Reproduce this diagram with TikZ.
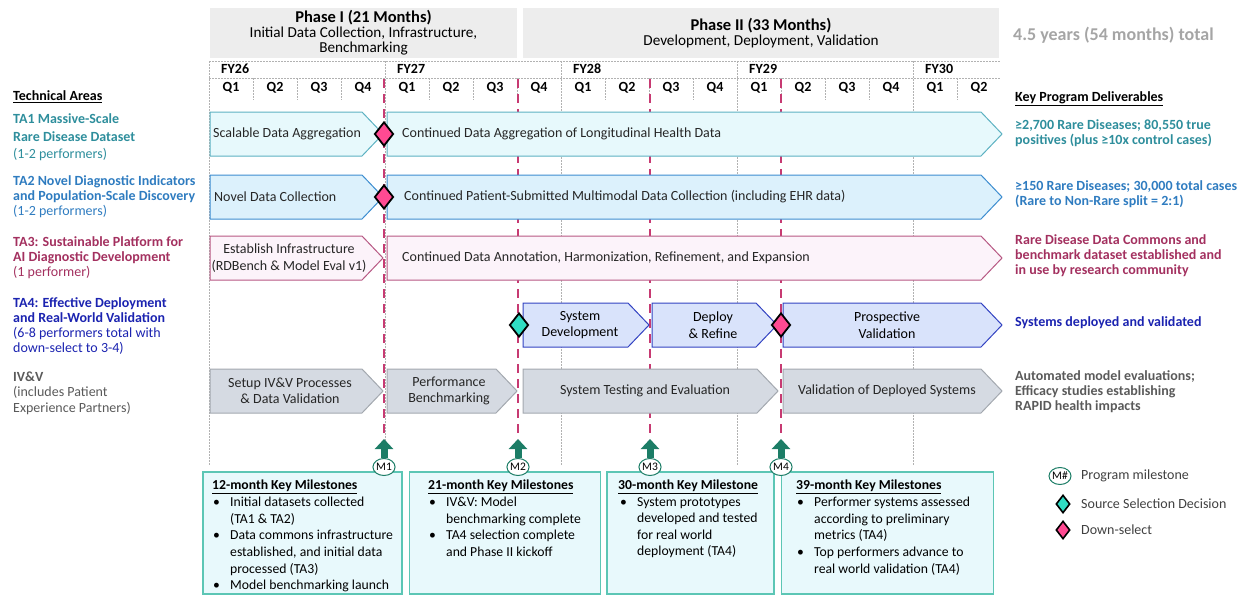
\documentclass[tikz,border=0pt]{standalone}
\usepackage{fontspec}
\setmainfont{Carlito}
\usetikzlibrary{shapes.geometric,arrows.meta}

\definecolor{taonetext}{HTML}{2E8E9C}
\definecolor{taonefill}{HTML}{E7F9FC}
\definecolor{taoneline}{HTML}{5DB2C2}
\definecolor{tatwotext}{HTML}{2F7CC0}
\definecolor{tatwofill}{HTML}{DCF1FC}
\definecolor{tatwoline}{HTML}{3D8DD0}
\definecolor{tathreetext}{HTML}{A3305F}
\definecolor{tathreefill}{HTML}{FCF3FA}
\definecolor{tathreeline}{HTML}{B75883}
\definecolor{tafourtext}{HTML}{1B23B0}
\definecolor{tafourfill}{HTML}{D9E3FB}
\definecolor{tafourline}{HTML}{3343C2}
\definecolor{ivvtext}{HTML}{5A5A5A}
\definecolor{ivvfill}{HTML}{D5DAE2}
\definecolor{ivvline}{HTML}{A3A8AF}
\definecolor{mspink}{HTML}{C73A72}
\definecolor{msgreen}{HTML}{1C7D66}
\definecolor{msfill}{HTML}{E8F9FC}
\definecolor{msedge}{HTML}{5CC6B5}
\definecolor{dspink}{HTML}{FF4A92}
\definecolor{sscyan}{HTML}{30DCC3}
\definecolor{phasegray}{HTML}{EDEDED}
\definecolor{totalgray}{HTML}{A5A5A5}
\definecolor{bartextc}{HTML}{262626}
\definecolor{legendc}{HTML}{404040}

% chevron bar: style, left x, tip x, top y
\newcommand{\chevbox}[4]{\draw[#1] (#2,#4) -- ({#3-21},#4) -- (#3,{#4+22}) -- ({#3-21},{#4+44}) -- (#2,{#4+44}) -- cycle;}
\newcommand{\mshead}[1]{\textbf{\underline{#1}}}
\newcommand{\msitem}{\makebox[17pt][l]{\textbullet}}
\newcommand{\msgap}{\hspace*{17pt}}

\begin{document}
\begin{tikzpicture}[x=1pt,y=-1pt,
  every node/.style={inner sep=0pt, font=\fontsize{14}{15}\selectfont},
  bartext/.style={text=bartextc, align=center, font=\fontsize{14}{16.5}\selectfont},
  griddot/.style={draw=black!30, line width=0.6pt, dash pattern=on 1.5pt off 1.5pt},
  msmark/.style={draw=mspink, line width=2.6pt, dash pattern=on 9pt off 6pt},
  msarrow/.style={draw=msgreen, line width=7pt, -{Triangle[width=18pt,length=10pt]}},
  msnode/.style={ellipse, draw=msgreen, line width=1pt, fill=white, minimum width=22pt, minimum height=17pt, font=\fontsize{11.5}{11.5}\selectfont},
  msbox/.style={draw=msedge, fill=msfill, line width=1.2pt},
  msbody/.style={align=left, text=black, font=\fontsize{13.7}{16.6}\selectfont},
  mstitle/.style={anchor=west, font=\fontsize{13.7}{15}\selectfont},
  phasebox/.style={fill=phasegray, align=center, font=\fontsize{15.2}{15}\selectfont},
  downsel/.style={diamond, draw=black, line width=1.8pt, fill=dspink, minimum width=19pt, minimum height=24pt},
  srcsel/.style={downsel, fill=sscyan},
  talabel/.style={align=left, anchor=west},
  deliv/.style={align=left, anchor=west, font=\fontsize{14}{15}\selectfont\bfseries},
  taone/.style={draw=taoneline, fill=taonefill, line width=1pt},
  tatwo/.style={draw=tatwoline, fill=tatwofill, line width=1pt},
  tathree/.style={draw=tathreeline, fill=tathreefill, line width=1pt},
  tafour/.style={draw=tafourline, fill=tafourfill, line width=1pt},
  ivv/.style={draw=ivvline, fill=ivvfill, line width=1pt}]
\useasboundingbox (0,0) rectangle (1244,595);

% phase header
\node[phasebox, minimum width=307pt, minimum height=50pt] (phone) at (363.5,33) {{\fontsize{16.5}{15}\selectfont\bfseries Phase I (21 Months)}\\Initial Data Collection, Infrastructure,\\Benchmarking};
\node[phasebox, minimum width=476pt, minimum height=50pt] (phtwo) at (761,33) {{\fontsize{16.5}{16}\selectfont\bfseries Phase II (33 Months)}\\Development, Deployment, Validation};
\node[text=totalgray, font=\fontsize{18}{18}\selectfont\bfseries, anchor=west] (total) at (1013,35) {4.5 years (54 months) total};

% timeline grid
\draw[griddot] (209,61) -- (1001,61);
\draw[griddot] (209,78) -- (1001,78);
\foreach \x in {209,385,561,737,913} \draw[griddot] (\x,61) -- (\x,466);
\foreach \k in {1,2,3,5,6,7,9,10,11,13,14,15,17} \draw[griddot] ({209+44*\k},78) -- ({209+44*\k},100);
\foreach \f [count=\i from 0] in {26,...,30} \node[anchor=west, font=\fontsize{14}{15}\selectfont\bfseries] (fy\f) at ({221+176*\i},69) {FY\f};
\foreach \k in {0,...,17} {
  \pgfmathtruncatemacro{\q}{mod(\k,4)+1}
  \node[font=\fontsize{14}{15}\selectfont\bfseries] (q\k) at ({231+44*\k},88) {Q\q};
}

% milestone lines
\foreach \x/\m in {384/1,518/2,650/3,781/4} {
  \coordinate (mtop\m) at (\x,79);
  \coordinate (mtip\m) at (\x,439);
  \draw[msmark] (mtop\m) -- (mtip\m);
}

% left labels
\node[anchor=west, font=\fontsize{14}{15}\selectfont\bfseries] (tahead) at (13,97) {\underline{Technical Areas}};
\node[talabel, text=taonetext, font=\fontsize{14}{17.5}\selectfont] (laone) at (13,137.5) {\textbf{TA1 Massive-Scale}\\\textbf{Rare Disease Dataset}\\(1-2 performers)};
\node[talabel, text=tatwotext] (latwo) at (13,197) {\textbf{TA2 Novel Diagnostic Indicators}\\\textbf{and Population-Scale Discovery}\\(1-2 performers)};
\node[talabel, text=tathreetext] (lathree) at (13,258) {\textbf{TA3: Sustainable Platform for}\\\textbf{AI Diagnostic Development}\\(1 performer)};
\node[talabel, text=tafourtext] (lafour) at (13,326) {\textbf{TA4: Effective Deployment}\\\textbf{and Real-World Validation}\\(6-8 performers total with\\down-select to 3-4)};
\node[talabel, text=ivvtext, font=\fontsize{14}{15.5}\selectfont] (laivv) at (13,393) {\textbf{IV\&V}\\(includes Patient\\Experience Partners)};

% right deliverables
\node[anchor=west, font=\fontsize{14}{15}\selectfont\bfseries] (dvhead) at (1015,99) {\underline{Key Program Deliverables}};
\node[deliv, text=taonetext] (dvone) at (1015,133.5) {≥2,700 Rare Diseases; 80,550 true\\positives (plus ≥10x control cases)};
\node[deliv, text=tatwotext] (dvtwo) at (1015,194) {≥150 Rare Diseases; 30,000 total cases\\(Rare to Non-Rare split = 2:1)};
\node[deliv, text=tathreetext] (dvthree) at (1015,256) {Rare Disease Data Commons and\\benchmark dataset established and\\in use by research community};
\node[deliv, text=tafourtext] (dvfour) at (1015,323) {Systems deployed and validated};
\node[deliv, text=ivvtext] (dvivv) at (1015,391.5) {Automated model evaluations;\\Efficacy studies establishing\\RAPID health impacts};

% TA1
\chevbox{taone}{210}{383}{112}
\chevbox{taone}{387}{1002}{112}
\node[bartext, anchor=west] (tonea) at (213,134) {Scalable Data Aggregation};
\node[bartext, anchor=west] (toneb) at (402,134) {Continued Data Aggregation of Longitudinal Health Data};
% TA2
\chevbox{tatwo}{210}{383}{175}
\chevbox{tatwo}{387}{1002}{175}
\node[bartext, anchor=west] (ttwoa) at (214,197) {Novel Data Collection};
\node[bartext, anchor=west] (ttwob) at (404,197) {Continued Patient-Submitted Multimodal Data Collection (including EHR data)};
% TA3
\chevbox{tathree}{210}{383}{236}
\chevbox{tathree}{387}{1002}{236}
\node[bartext] (tthreea) at (289,258) {Establish Infrastructure\\(RDBench \& Model Eval v1)};
\node[bartext, anchor=west] (tthreeb) at (402,258) {Continued Data Annotation, Harmonization, Refinement, and Expansion};
% TA4
\chevbox{tafour}{523}{649}{303}
\chevbox{tafour}{652}{777}{303}
\chevbox{tafour}{783}{1002}{303}
\node[bartext, text=black] (tfoura) at (580,325) {System\\Development};
\node[bartext, text=black] (tfourb) at (713,325) {Deploy\\\& Refine};
\node[bartext, text=black] (tfourc) at (887,325) {Prospective\\Validation};
% IV&V
\chevbox{ivv}{210}{383}{369}
\chevbox{ivv}{387}{517}{369}
\chevbox{ivv}{523}{778}{369}
\chevbox{ivv}{783}{1002}{369}
\node[bartext] (tivva) at (290,391) {Setup IV\&V Processes\\\& Data Validation};
\node[bartext] (tivvb) at (449,391) {Performance\\Benchmarking};
\node[bartext] (tivvc) at (645,391) {System Testing and Evaluation};
\node[bartext] (tivvd) at (887,391) {Validation of Deployed Systems};

% decisions
\node[downsel] (dsone) at (384,134) {};
\node[downsel] (dstwo) at (384,197) {};
\node[srcsel] (ssone) at (519,325) {};
\node[downsel] (dsthree) at (781,325) {};

% milestone boxes
\node[msbox, minimum width=199pt, minimum height=122pt] (mbone) at (302.5,533) {};
\node[msbox, minimum width=191pt, minimum height=122pt] (mbtwo) at (505,533) {};
\node[msbox, minimum width=167pt, minimum height=122pt] (mbthree) at (690.5,533) {};
\node[msbox, minimum width=212pt, minimum height=122pt] (mbfour) at (887.5,533) {};

\node[mstitle] (mhone) at (212,487) {\mshead{12-month Key Milestones}};
\node[msbody, anchor=north west] (mxone) at (213,497) {\msitem Initial datasets collected\\\msgap (TA1 \& TA2)\\\msitem Data commons infrastructure\\\msgap established, and initial data\\\msgap processed (TA3)\\\msitem Model benchmarking launch};
\node[mstitle] (mhtwo) at (428,487) {\mshead{21-month Key Milestones}};
\node[msbody, anchor=north west] (mxtwo) at (429,497) {\msitem IV\&V: Model\\\msgap benchmarking complete\\\msitem TA4 selection complete\\\msgap and Phase II kickoff};
\node[mstitle] (mhthree) at (618,487) {\mshead{30-month Key Milestone}};
\node[msbody, anchor=north west] (mxthree) at (620,497) {\msitem System prototypes\\\msgap developed and tested\\\msgap for real world\\\msgap deployment (TA4)};
\node[mstitle] (mhfour) at (796,487) {\mshead{39-month Key Milestones}};
\node[msbody, anchor=north west] (mxfour) at (797,497) {\msitem Performer systems assessed\\\msgap according to preliminary\\\msgap metrics (TA4)\\\msitem Top performers advance to\\\msgap real world validation (TA4)};

% milestone markers
\foreach \x/\m in {384/1,518/2,650/3,781/4} {
  \node[msnode] (mcirc\m) at (\x,467) {M\m};
  \draw[msarrow] (mcirc\m.north) -- (mtip\m);
}

% legend
\node[msnode] (lgm) at (1060,476) {M\#};
\node[anchor=west, text=legendc] (lgmt) at (1081,476) {Program milestone};
\node[srcsel, minimum width=14pt, minimum height=18pt, line width=1.6pt] (lgs) at (1063,504) {};
\node[anchor=west, text=legendc] (lgst) at (1081,504) {Source Selection Decision};
\node[downsel, minimum width=14pt, minimum height=18pt, line width=1.6pt] (lgd) at (1063,530) {};
\node[anchor=west, text=legendc] (lgdt) at (1081,530) {Down-select};
\end{tikzpicture}
\end{document}
